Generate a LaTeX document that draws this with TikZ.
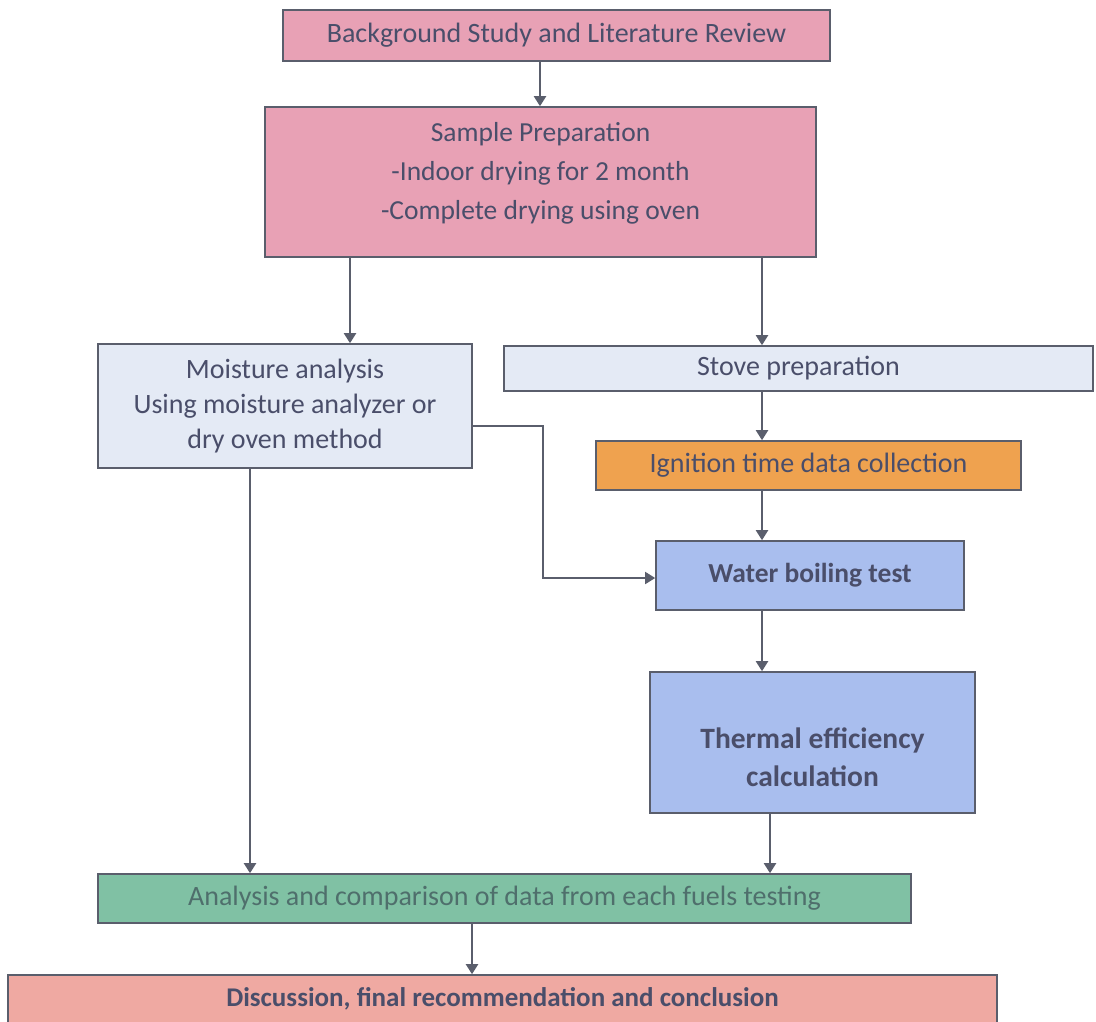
\documentclass[tikz,border=0pt]{standalone}
\usepackage{fontspec}
\setmainfont{Carlito}
\usetikzlibrary{arrows.meta}
\definecolor{pinkA}{HTML}{E8A1B5}
\definecolor{paleB}{HTML}{E4EAF5}
\definecolor{orangeC}{HTML}{EFA24F}
\definecolor{blueD}{HTML}{A9BEEE}
\definecolor{greenE}{HTML}{80C1A4}
\definecolor{salmonF}{HTML}{EFA9A2}
\definecolor{edgeG}{HTML}{5A5E6C}
\definecolor{txtH}{HTML}{4A4E6A}
\definecolor{txtI}{HTML}{4F6F6C}
\tikzset{
  box/.style={draw=edgeG, line width=1.6pt, inner sep=0pt, align=center, text=txtH,
    font=\fontsize{28}{35}\selectfont},
  arr/.style={draw=edgeG, line width=2pt, -{Triangle[width=12pt,length=10pt]}},
}
\begin{document}
\begin{tikzpicture}[x=1pt,y=-1pt]
\useasboundingbox (0,0) rectangle (1096,1021);
\fill[white] (0,0) rectangle (1096,1021);
% boxes
\node[box, fill=pinkA, minimum width=547pt, minimum height=51pt] (bg) at (556.5,35.5) {Background Study and Literature Review};
\node[box, fill=pinkA, minimum width=551pt, minimum height=150pt] (samp) at (540.5,182) {};
\node[align=center, text=txtH, font=\fontsize{27.5}{39}\selectfont] (samptxt) at (540.5,173) {Sample Preparation\\-Indoor drying for 2 month\\-Complete drying using oven};
\node[box, fill=paleB, minimum width=374pt, minimum height=124pt] (moist) at (285,406) {Moisture analysis\\Using moisture analyzer or\\dry oven method};
\node[box, fill=paleB, minimum width=589pt, minimum height=45pt] (stove) at (798.5,368.5) {Stove preparation};
\node[box, fill=orangeC, minimum width=425pt, minimum height=49pt] (ign) at (808.5,465.5) {Ignition time data collection};
\node[box, fill=blueD, minimum width=308pt, minimum height=69pt, font=\fontsize{27.5}{34}\bfseries\selectfont] (water) at (810,575.5) {Water boiling test};
\node[box, fill=blueD, minimum width=325pt, minimum height=141pt] (therm) at (812.5,742.5) {};
\node[align=center, text=txtH, font=\fontsize{29.5}{38}\bfseries\selectfont] (thermtxt) at (812.5,757) {Thermal efficiency\\calculation};
\node[box, fill=greenE, minimum width=813pt, minimum height=49pt, text=txtI] (anal) at (504.5,898.5) {Analysis and comparison of data from each fuels testing};
\node[box, fill=salmonF, minimum width=989pt, minimum height=48pt, font=\fontsize{27}{34}\bfseries\selectfont] (disc) at (502.5,999) {Discussion, final recommendation and conclusion};
% connectors
\draw[arr] (bg.south -| 540,0) -- (samp.north -| 540,0);
\draw[arr] (samp.south -| 350,0) -- (moist.north -| 350,0);
\draw[arr] (samp.south -| 762,0) -- (stove.north -| 762,0);
\draw[arr] (stove.south -| 762,0) -- (ign.north -| 762,0);
\draw[arr] (ign.south -| 762,0) -- (water.north -| 762,0);
\draw[arr, line width=1.6pt] ([yshift=-20pt]moist.east) -- ++(70,0) |- ([yshift=-2.5pt]water.west);
\draw[arr] (water.south -| 762,0) -- (therm.north -| 762,0);
\draw[arr] (moist.south -| 250,0) -- (anal.north -| 250,0);
\draw[arr] (therm.south -| 770,0) -- (anal.north -| 770,0);
\draw[arr] (anal.south -| 472,0) -- (disc.north -| 472,0);
\end{tikzpicture}
\end{document}
